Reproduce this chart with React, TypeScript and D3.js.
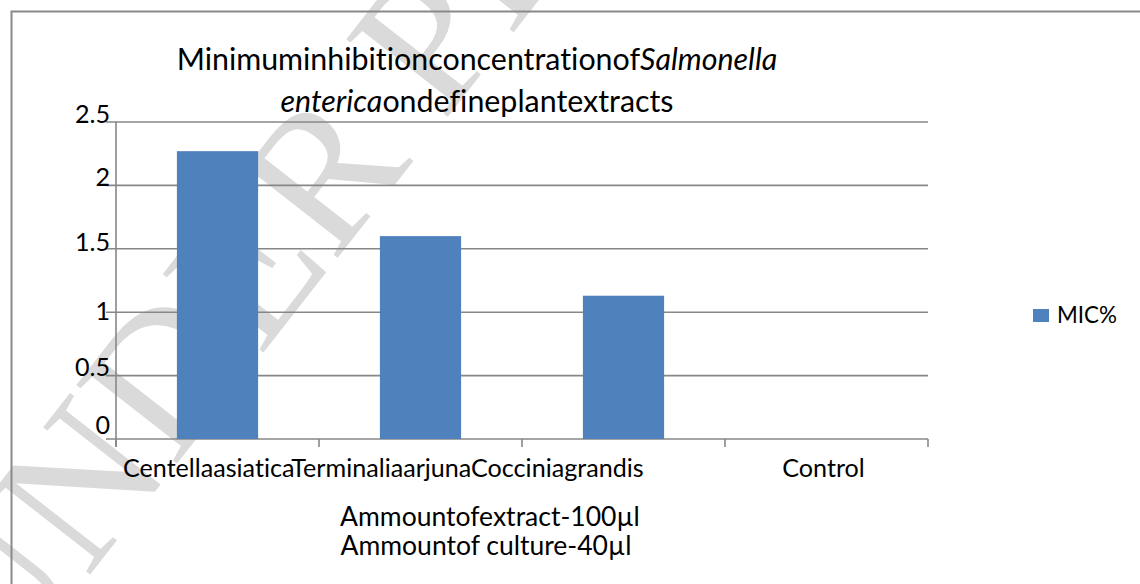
import { useEffect, useRef } from 'react';
import * as d3 from 'd3';

// chart values
const categories = ['Centellaasiatica', 'Terminaliaarjuna', 'Cocciniagrandis', 'Control'];
const micValues = [2.27, 1.6, 1.13, 0];
const yTicks = [0, 0.5, 1, 1.5, 2, 2.5];
const seriesName = 'MIC%';
const titleLine1 = [
  { text: 'Minimuminhibitionconcentrationof', italic: false },
  { text: 'Salmonella', italic: true },
];
const titleLine2 = [
  { text: 'enterica', italic: true },
  { text: 'ondefineplantextracts', italic: false },
];
const axisTitle = ['Ammountofextract-100µl', 'Ammountof culture-40µl'];
const watermark = 'UNDER PEER REVIEW';

const FONT = 'Lato, "Open Sans", sans-serif';
// the original's tick labels sit unevenly against their gridlines
const tickNudge = [-14, -8, -1, -7, -8, -8];

// scale a text's font size so that it spans the wanted width
const fitWidth = (sel: d3.Selection<SVGTextElement, unknown, null, undefined>, target: number) => {
  const len = sel.node()!.getComputedTextLength();
  const fs = parseFloat(sel.attr('font-size'));
  const next = (fs * target) / len;
  sel.attr('font-size', next);
  return next;
};

const App = () => {
  const svgRef = useRef<SVGSVGElement | null>(null);

  useEffect(() => {
    const svg = d3.select(svgRef.current);
    svg.selectAll('*').remove();

    const width = 1140;
    const height = 584;
    const plot = { left: 116, right: 928, top: 122, bottom: 439 };

    // faint page watermark, behind everything
    svg.append('text')
      .attr('transform', 'translate(0,690) rotate(-52)')
      .attr('font-family', '"Liberation Serif", serif')
      .attr('font-size', 195)
      .attr('fill', '#dadada')
      .text(watermark);

    // chart frame (runs off the right and bottom of the picture)
    svg.append('rect')
      .attr('x', 11.5)
      .attr('y', 11.5)
      .attr('width', width + 40)
      .attr('height', height + 40)
      .attr('fill', 'none')
      .attr('stroke', '#898989')
      .attr('stroke-width', 2);

    const x = d3.scaleBand<string>()
      .domain(categories)
      .range([plot.left, plot.right])
      .paddingInner(0.6)
      .paddingOuter(0.3);

    const y = d3.scaleLinear()
      .domain([0, 2.5])
      .range([plot.bottom, plot.top]);

    // gridlines with the short outward tick on the left
    svg.append('g')
      .selectAll('line')
      .data(yTicks)
      .join('line')
      .attr('x1', plot.left - 10)
      .attr('x2', plot.right)
      .attr('y1', d => y(d))
      .attr('y2', d => y(d))
      .attr('stroke', '#878787')
      .attr('stroke-width', 1.6);

    // bars
    svg.append('g')
      .selectAll('rect')
      .data(categories)
      .join('rect')
      .attr('x', d => x(d)!)
      .attr('y', (_, i) => y(micValues[i]))
      .attr('width', x.bandwidth())
      .attr('height', (_, i) => y(0) - y(micValues[i]))
      .attr('fill', '#4f81bd');

    // y axis line and category boundary ticks
    svg.append('line')
      .attr('x1', plot.left)
      .attr('x2', plot.left)
      .attr('y1', plot.top)
      .attr('y2', plot.bottom + 8)
      .attr('stroke', '#878787')
      .attr('stroke-width', 1.6);

    const step = x.step();
    const bounds = categories.map(c => x(c)! - step * 0.3).concat([plot.right]);
    svg.append('g')
      .selectAll('line')
      .data(bounds)
      .join('line')
      .attr('x1', d => d)
      .attr('x2', d => d)
      .attr('y1', plot.bottom)
      .attr('y2', plot.bottom + 8)
      .attr('stroke', '#878787')
      .attr('stroke-width', 1.6);

    // category labels: the first three run together as in the original
    const clip = svg.append('clipPath').attr('id', 'lbl-clip');
    clip.append('rect').attr('x', 0).attr('y', 0).attr('width', width).attr('height', 482);

    const flow = svg.append('text')
      .attr('clip-path', 'url(#lbl-clip)')
      .attr('x', plot.left + 7)
      .attr('y', 477)
      .attr('font-family', FONT)
      .attr('font-size', 20)
      .style('font-variant-ligatures', 'none')
      .attr('fill', '#000');
    categories.slice(0, 3).forEach(c => flow.append('tspan').text(c));
    const labelSize = fitWidth(flow, 521);

    svg.append('text')
      .attr('x', x(categories[3])! + x.bandwidth() / 2 - 3)
      .attr('y', 477)
      .attr('text-anchor', 'middle')
      .attr('font-family', FONT)
      .attr('font-size', labelSize)
      .text(categories[3]);

    // y tick labels
    svg.append('g')
      .selectAll('text')
      .data(yTicks)
      .join('text')
      .attr('x', plot.left - 6)
      .attr('y', (d, i) => y(d) + tickNudge[i])
      .attr('dy', '0.35em')
      .attr('text-anchor', 'end')
      .attr('font-family', FONT)
      .attr('font-size', labelSize)
      .text(d => d3.format('~g')(d));

    // title
    const t1 = svg.append('text')
      .attr('x', 477)
      .attr('y', 70)
      .attr('text-anchor', 'middle')
      .attr('font-family', FONT)
      .attr('font-size', 26)
      .style('font-variant-ligatures', 'none');
    titleLine1.forEach(p => t1.append('tspan').attr('font-style', p.italic ? 'italic' : 'normal').text(p.text));
    const titleSize = fitWidth(t1, 601);

    const t2 = svg.append('text')
      .attr('x', 477)
      .attr('y', 112)
      .attr('text-anchor', 'middle')
      .attr('font-family', FONT)
      .attr('font-size', titleSize)
      .style('font-variant-ligatures', 'none');
    titleLine2.forEach(p => t2.append('tspan').attr('font-style', p.italic ? 'italic' : 'normal').text(p.text));

    // axis title
    const a1 = svg.append('text')
      .attr('x', 490)
      .attr('y', 526)
      .attr('text-anchor', 'middle')
      .attr('font-family', FONT)
      .attr('font-size', 22)
      .style('font-variant-ligatures', 'none')
      .text(axisTitle[0]);
    const axisSize = fitWidth(a1, 300);
    svg.append('text')
      .attr('x', 486)
      .attr('y', 555)
      .attr('text-anchor', 'middle')
      .attr('font-family', FONT)
      .attr('font-size', axisSize)
      .style('font-variant-ligatures', 'none')
      .text(axisTitle[1]);

    // legend
    const legend = svg.append('g').attr('transform', 'translate(1033,309)');
    legend.append('rect')
      .attr('width', 16)
      .attr('height', 13)
      .attr('fill', '#4f81bd');
    const lt = legend.append('text')
      .attr('x', 24)
      .attr('y', 14)
      .attr('font-family', FONT)
      .attr('font-size', 20)
      .text(seriesName);
    fitWidth(lt, 60);
  }, []);

  return (
    <svg
      ref={svgRef}
      width={1140}
      height={584}
      style={{ position: 'fixed', left: 0, top: 0, background: '#fff' }}
    />
  );
};

export default App;
